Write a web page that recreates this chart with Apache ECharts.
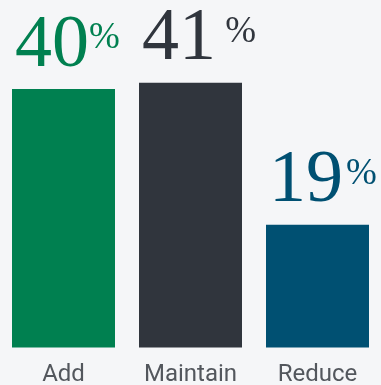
<!DOCTYPE html>
<html>
<head>
<meta charset="utf-8">
<style>
  html, body { margin: 0; padding: 0; background: #f5f6f8; }
  #chart { width: 381px; height: 385px; }
</style>
<script src="https://cdn.jsdelivr.net/npm/echarts@6/dist/echarts.min.js"></script>
</head>
<body>
<div id="chart"></div>
<script>
// Share of respondents by planned action
const categories = ['Add', 'Maintain', 'Reduce'];
const shares = [40, 41, 19];
const barColors = ['#008050', '#30353d', '#005072'];
// spacing placed between the number and the percent sign
const pctSeparators = ['', ' ', '\u200A'];

const chart = echarts.init(document.getElementById('chart'), null, { renderer: 'canvas' });

const serif = '"Liberation Serif", "DejaVu Serif", serif';

chart.setOption({
  backgroundColor: '#f5f6f8',
  animation: false,
  grid: { left: 0, right: 0, top: 24.5, bottom: 37.5, containLabel: false, outerBoundsMode: 'none' },
  xAxis: {
    type: 'category',
    data: categories,
    axisLine: { show: false },
    axisTick: { show: false },
    axisLabel: {
      interval: 0,
      color: '#53575d',
      fontFamily: 'Roboto, "Open Sans", sans-serif',
      fontSize: 24,
      margin: 15
    }
  },
  yAxis: {
    type: 'value',
    min: 0,
    max: 50,
    show: false,
    splitLine: { show: false }
  },
  series: [{
    type: 'bar',
    barWidth: 103,
    data: shares.map((v, i) => ({
      value: v,
      itemStyle: { color: barColors[i] },
      label: {
        show: true,
        position: [3, -6],
        align: 'left',
        verticalAlign: 'bottom',
        formatter: '{n|' + v + '}{p|' + pctSeparators[i] + '%}',
        rich: {
          n: { fontFamily: serif, fontSize: 74, color: barColors[i], lineHeight: 74 },
          p: { fontFamily: serif, fontSize: 37, color: barColors[i], lineHeight: 60, verticalAlign: 'top', padding: [11, 0, 0, 0] }
        }
      }
    }))
  }]
});
</script>
</body>
</html>
